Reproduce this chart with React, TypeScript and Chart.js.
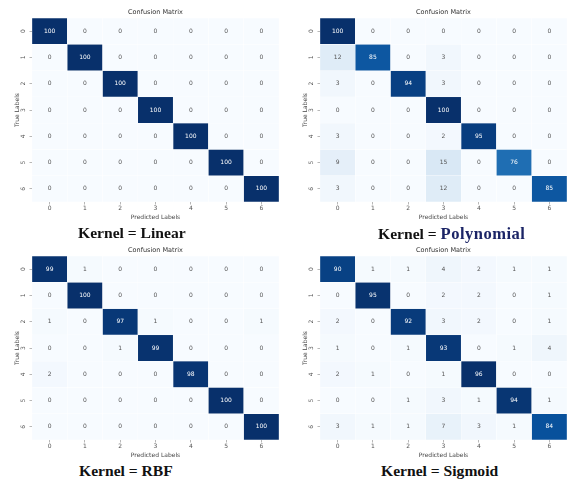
import React, { useEffect, useRef } from 'react';
import { Chart, registerables } from 'chart.js';

Chart.register(...registerables);
Chart.defaults.font.family = '"DejaVu Sans", sans-serif';

// Class names shared by both axes
const classLabels = ['0', '1', '2', '3', '4', '5', '6'];

// Confusion matrices (rows = true class, columns = predicted class)
const linearMatrix = [
  [100, 0, 0, 0, 0, 0, 0],
  [0, 100, 0, 0, 0, 0, 0],
  [0, 0, 100, 0, 0, 0, 0],
  [0, 0, 0, 100, 0, 0, 0],
  [0, 0, 0, 0, 100, 0, 0],
  [0, 0, 0, 0, 0, 100, 0],
  [0, 0, 0, 0, 0, 0, 100],
];

const polynomialMatrix = [
  [100, 0, 0, 0, 0, 0, 0],
  [12, 85, 0, 3, 0, 0, 0],
  [3, 0, 94, 3, 0, 0, 0],
  [0, 0, 0, 100, 0, 0, 0],
  [3, 0, 0, 2, 95, 0, 0],
  [9, 0, 0, 15, 0, 76, 0],
  [3, 0, 0, 12, 0, 0, 85],
];

const rbfMatrix = [
  [99, 1, 0, 0, 0, 0, 0],
  [0, 100, 0, 0, 0, 0, 0],
  [1, 0, 97, 1, 0, 0, 1],
  [0, 0, 1, 99, 0, 0, 0],
  [2, 0, 0, 0, 98, 0, 0],
  [0, 0, 0, 0, 0, 100, 0],
  [0, 0, 0, 0, 0, 0, 100],
];

const sigmoidMatrix = [
  [90, 1, 1, 4, 2, 1, 1],
  [0, 95, 0, 2, 2, 0, 1],
  [2, 0, 92, 3, 2, 0, 1],
  [1, 0, 1, 93, 0, 1, 4],
  [2, 1, 0, 1, 96, 0, 0],
  [0, 0, 1, 3, 1, 94, 1],
  [3, 1, 1, 7, 3, 1, 84],
];

// "Blues" colour ramp stops
const bluesStops = ['#f7fbff', '#deebf7', '#c6dbef', '#9ecae1', '#6baed6', '#4292c6', '#2171b5', '#08519c', '#08306b'];

function hexToRgb(h: string): number[] {
  const n = parseInt(h.slice(1), 16);
  return [(n >> 16) & 255, (n >> 8) & 255, n & 255];
}

function bluesColor(t: number): string {
  const tt = Math.max(0, Math.min(1, t));
  const pos = tt * (bluesStops.length - 1);
  const i = Math.min(Math.floor(pos), bluesStops.length - 2);
  const f = pos - i;
  const a = hexToRgb(bluesStops[i]);
  const b = hexToRgb(bluesStops[i + 1]);
  const c = a.map((v, k) => Math.round(v + (b[k] - v) * f));
  return `rgb(${c[0]},${c[1]},${c[2]})`;
}

// Writes each cell's count at the centre of its bar
const cellText = {
  id: 'cellText',
  afterDatasetsDraw(chart: any, _args: any, opts: any) {
    const { ctx } = chart;
    const matrix: number[][] = opts.matrix;
    const vmin: number = opts.vmin;
    const vmax: number = opts.vmax;
    ctx.save();
    ctx.font = '6px "DejaVu Sans", sans-serif';
    ctx.textAlign = 'center';
    ctx.textBaseline = 'middle';
    chart.data.datasets.forEach((_ds: any, r: number) => {
      const meta = chart.getDatasetMeta(r);
      meta.data.forEach((el: any, c: number) => {
        const v = matrix[r][c];
        const { x, y } = el.getCenterPoint();
        const t = (v - vmin) / (vmax - vmin || 1);
        ctx.fillStyle = t >= 0.45 ? '#ffffff' : '#555555';
        ctx.fillText(String(v), x, y);
      });
    });
    ctx.restore();
  },
};

const CW = 279;
const CH = 222;

function Heatmap({ matrix, left, top }: { matrix: number[][]; left: number; top: number }) {
  const ref = useRef<HTMLCanvasElement | null>(null);

  useEffect(() => {
    if (!ref.current) return;
    const flat = matrix.flat();
    const vmax = Math.max(...flat);
    const vmin = Math.min(...flat);

    const chart = new Chart(ref.current, {
      type: 'bar',
      data: {
        labels: classLabels,
        datasets: matrix.map((row, r) => ({
          label: classLabels[r],
          data: row.map(() => [r, r + 1]),
          backgroundColor: row.map((v) => bluesColor((v - vmin) / (vmax - vmin || 1))),
          borderColor: 'rgba(255,255,255,0.5)',
          borderWidth: 0.5,
          borderSkipped: false,
          grouped: false,
          barPercentage: 1,
          categoryPercentage: 1,
        })),
      } as any,
      options: {
        responsive: false,
        animation: false,
        layout: { padding: 0 },
        plugins: {
          legend: { display: false },
          tooltip: { enabled: false },
          title: {
            display: true,
            text: 'Confusion Matrix',
            fullSize: false,
            color: '#333333',
            font: { size: 6.5, weight: 'normal' },
            padding: { top: 8.6, bottom: 1.6 },
          },
          cellText: { matrix, vmin, vmax },
        } as any,
        scales: {
          x: {
            type: 'category',
            offset: true,
            border: { display: false },
            grid: { offset: false, drawOnChartArea: false, tickLength: 2.5, color: '#888888', lineWidth: 0.6 },
            ticks: { padding: 0, color: '#555555', font: { size: 6 }, maxRotation: 0, autoSkip: false },
            title: {
              display: true,
              text: 'Predicted Labels',
              color: '#444444',
              font: { size: 6 },
              padding: { top: 0, bottom: 1 },
            },
            afterFit: (s: any) => {
              s.height = 20;
            },
          },
          y: {
            type: 'linear',
            min: 0,
            max: classLabels.length,
            reverse: true,
            stacked: false,
            border: { display: false },
            grid: { drawOnChartArea: false, tickLength: 2.5, color: '#888888', lineWidth: 0.6 },
            afterBuildTicks: (s: any) => {
              s.ticks = classLabels.map((_l, i) => ({ value: i + 0.5 }));
            },
            ticks: {
              autoSkip: false,
              padding: 4,
              crossAlign: 'center',
              minRotation: 90,
              maxRotation: 90,
              color: '#555555',
              font: { size: 6 },
              callback: (v: any) => classLabels[Math.floor(Number(v))],
            },
            title: {
              display: true,
              text: 'True Labels',
              color: '#444444',
              font: { size: 6 },
              padding: { top: 14, bottom: 0 },
            },
            afterFit: (s: any) => {
              s.width = 32;
            },
          },
        },
      } as any,
      plugins: [cellText as any],
    });

    return () => chart.destroy();
  }, [matrix]);

  return (
    <canvas
      ref={ref}
      width={CW}
      height={CH}
      style={{ position: 'absolute', left, top, width: CW, height: CH }}
    />
  );
}

const captionFont = '"Liberation Serif", "Times New Roman", serif';

function Caption({ left, baseline, children }: { left: number; baseline: number; children: React.ReactNode }) {
  const size = 15.6;
  return (
    <div
      style={{
        position: 'absolute',
        left,
        top: baseline - 0.8375 * size,
        fontFamily: captionFont,
        fontWeight: 'bold',
        fontSize: size,
        lineHeight: `${size}px`,
        whiteSpace: 'nowrap',
        color: '#111111',
      }}
    >
      {children}
    </div>
  );
}

export default function App() {
  return (
    <div
      style={{
        position: 'fixed',
        left: 0,
        top: 0,
        width: 567,
        height: 481,
        background: '#ffffff',
        overflow: 'hidden',
      }}
    >
      <Heatmap matrix={linearMatrix} left={0} top={0} />
      <Heatmap matrix={polynomialMatrix} left={288} top={0} />
      <Heatmap matrix={rbfMatrix} left={0} top={238} />
      <Heatmap matrix={sigmoidMatrix} left={288} top={238} />
      <Caption left={78} baseline={238.5}>Kernel = Linear</Caption>
      <Caption left={378} baseline={238.7}>
        Kernel = <span style={{ color: '#1b2466', letterSpacing: '0.5px', fontSize: '1.06em' }}>Polynomial</span>
      </Caption>
      <Caption left={79} baseline={476.5}>Kernel = RBF</Caption>
      <Caption left={381} baseline={476}>Kernel = Sigmoid</Caption>
    </div>
  );
}
